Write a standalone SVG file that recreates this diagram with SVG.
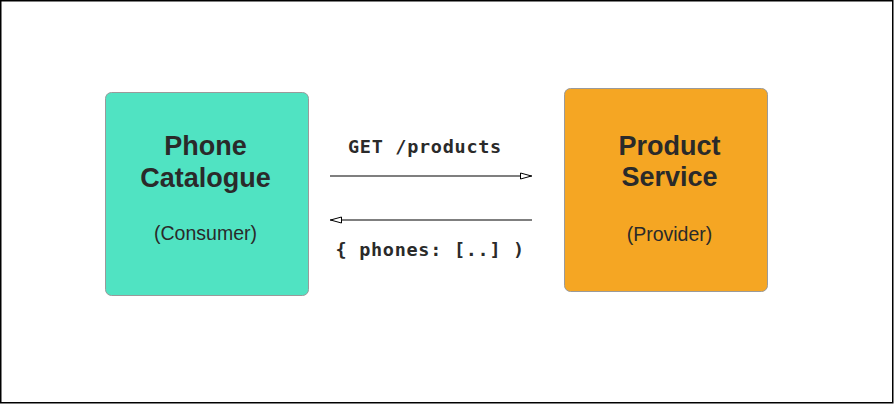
<svg xmlns="http://www.w3.org/2000/svg" width="894" height="404" viewBox="0 0 894 404">
<defs>
<style>
.box{stroke:#9a9a9a;stroke-width:1}
.title{font-family:"Liberation Sans",Arial,sans-serif;font-weight:bold;font-size:27px;fill:#2a2a2a;text-anchor:middle}
.sub{font-family:"Liberation Sans",Arial,sans-serif;font-size:19.5px;fill:#2a2a2a;text-anchor:middle}
.code{font-family:"DejaVu Sans Mono",monospace;font-weight:bold;font-size:18.5px;fill:#2a2a2a;letter-spacing:0.7px}
.line{stroke:#000;stroke-width:1.2;fill:none}
</style>
<marker id="ah" viewBox="0 0 12 8" refX="12" refY="4" markerWidth="12" markerHeight="8" markerUnits="userSpaceOnUse" orient="auto-start-reverse">
<path d="M0.5,1 L11.5,4 L0.5,7 Z" fill="#fff" stroke="#000" stroke-width="1"/>
</marker>
</defs>
<rect x="0.75" y="0.75" width="892" height="402" fill="#fff" stroke="#000" stroke-width="1.5"/>
<g id="consumer">
<rect class="box" x="105.5" y="92.5" width="203" height="203" rx="6" fill="#50E3C2"/>
<text class="title" x="205.5" y="155">Phone</text>
<text class="title" x="205.5" y="187">Catalogue</text>
<text class="sub" x="205.5" y="240">(Consumer)</text>
</g>
<g id="provider">
<rect class="box" x="564.5" y="88.5" width="203" height="203" rx="6" fill="#F5A623"/>
<text class="title" x="669.5" y="155">Product</text>
<text class="title" x="669.5" y="186">Service</text>
<text class="sub" x="669.5" y="241">(Provider)</text>
</g>
<g id="connectors">
<line class="line" x1="330" y1="176" x2="532" y2="176" marker-end="url(#ah)"/>
<text class="code" x="348" y="153">GET /products</text>
<line class="line" x1="532" y1="220" x2="330" y2="220" marker-end="url(#ah)"/>
<text class="code" x="335.5" y="256">{ phones: [..] )</text>
</g>
</svg>
